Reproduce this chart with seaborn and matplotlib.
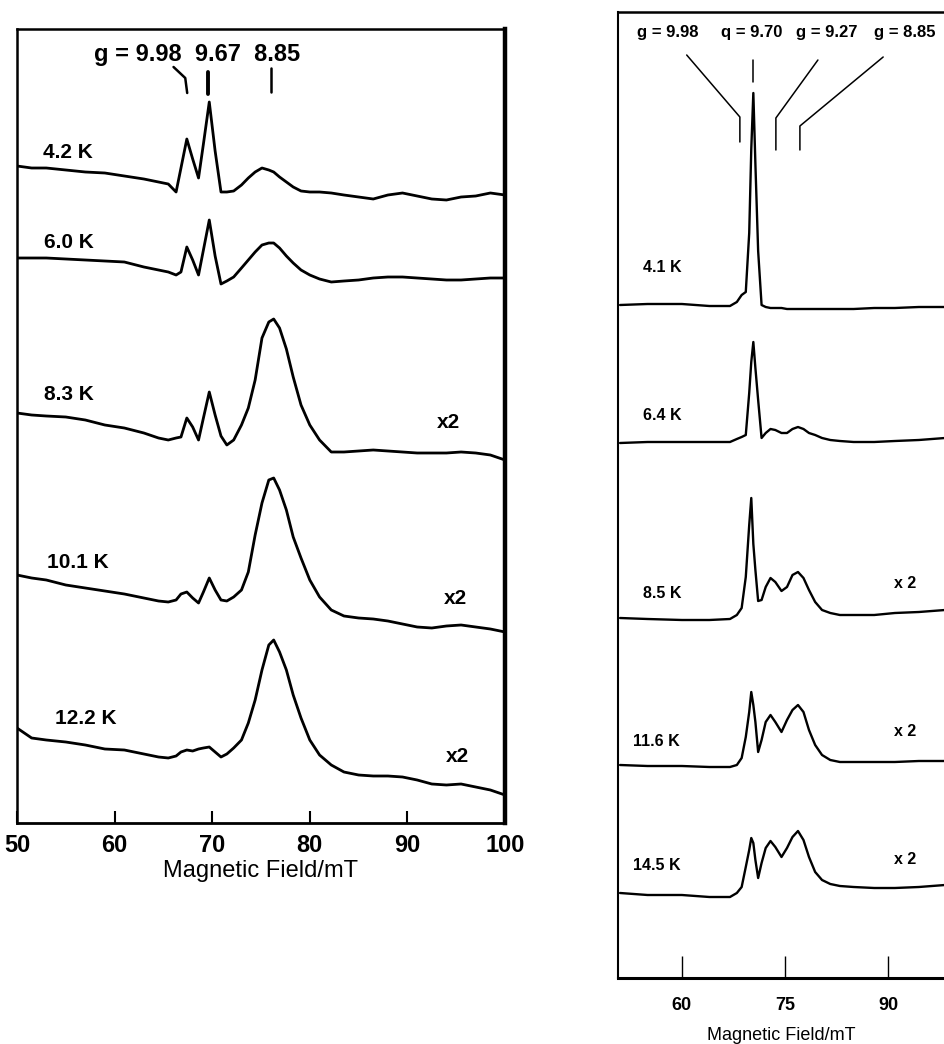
import matplotlib
matplotlib.use("Agg")
import matplotlib.pyplot as plt
import numpy as np
import pandas as pd
import seaborn as sns

# ---------------------------------------------------------------------------
# Panel A: EPR spectra, 4.2 - 12.2 K (intensity incl. vertical stacking offset)
# ---------------------------------------------------------------------------
field_a = [50, 51.5, 53, 55, 57, 59, 61, 63, 64.5, 65.5, 66.3, 66.8, 67.4, 68.0,
           68.6, 69.1, 69.7, 70.3, 70.9, 71.5, 72.2, 73.0, 73.7, 74.4, 75.1, 75.8,
           76.3, 76.9, 77.6, 78.3, 79.1, 80.0, 81.0, 82.2, 83.5, 85, 86.5, 88,
           89.5, 91, 92.5, 94, 95.5, 97, 98.5, 100]

spec_a_4_2 = [657, 655, 655, 653, 651, 650, 647, 644, 641, 639, 631, 655, 684, 664,
              645, 679, 721, 672, 631, 631, 632, 638, 645, 651, 655, 653,
              651, 646, 641, 636, 632, 631, 631, 630, 628, 626, 624, 628,
              630, 627, 624, 623, 626, 627, 630, 628]
spec_a_6_0 = [565, 565, 565, 564, 563, 562, 561, 556, 553, 551, 548, 551, 576, 563,
              548, 573, 603, 567, 539, 542, 546, 555, 563, 571, 578, 580,
              580, 575, 567, 560, 553, 548, 544, 541, 542, 543, 545, 546,
              546, 545, 544, 543, 543, 544, 545, 545]
spec_a_8_3 = [410, 408, 407, 406, 403, 398, 395, 390, 385, 383, 385, 386, 405, 396,
              383, 405, 431, 408, 387, 378, 383, 398, 415, 443, 485, 501,
              504, 495, 474, 446, 418, 398, 383, 371, 371, 372, 373, 372,
              371, 370, 370, 370, 371, 370, 368, 363]
spec_a_10_1 = [248, 245, 243, 238, 235, 232, 229, 225, 222, 221, 223, 229, 231, 225,
               220, 231, 245, 233, 223, 222, 226, 233, 251, 288, 320, 343,
               345, 333, 313, 286, 265, 243, 226, 213, 207, 205, 204, 202,
               199, 196, 195, 197, 198, 196, 194, 191]
spec_a_12_2 = [95, 85, 83, 81, 78, 74, 73, 69, 66, 65, 67, 71, 73, 72,
               74, 75, 76, 71, 66, 69, 75, 83, 100, 123, 153, 178,
               183, 171, 153, 128, 105, 83, 68, 58, 51, 48, 47, 47,
               46, 43, 39, 38, 39, 36, 33, 28]

temps_a = ["4.2 K", "6.0 K", "8.3 K", "10.1 K", "12.2 K"]
gain_a = ["", "", "x2", "x2", "x2"]
g_values_a = [9.98, 9.67, 8.85]
freq_a_ghz = 9.42

# ---------------------------------------------------------------------------
# Panel B: EPR spectra, 4.1 - 14.5 K
# ---------------------------------------------------------------------------
field_b = [51, 55, 60, 64, 67, 68, 68.7, 69.3, 69.8, 70.1, 70.4, 70.7, 71.1, 71.6,
           72.2, 72.9, 73.6, 74.5, 75.3, 76.1, 76.9, 77.7, 78.5, 79.4, 80.4, 81.6,
           83, 85, 88, 91, 94.5, 98.3]

spec_b_4_1 = [673, 674, 674, 672, 672, 676, 683, 686, 745, 829, 885, 814, 727, 673,
              671, 670, 670, 670, 669, 669, 669, 669, 669, 669, 669, 669,
              669, 669, 670, 670, 671, 671]
spec_b_6_4 = [535, 536, 536, 536, 536, 539, 541, 543, 585, 616, 636, 610, 578, 540,
              545, 549, 548, 545, 545, 549, 551, 549, 545, 543, 540, 538,
              537, 536, 536, 537, 538, 540]
spec_b_8_5 = [360, 359, 358, 358, 359, 363, 370, 401, 453, 480, 434, 408, 377, 378,
              391, 400, 396, 387, 391, 403, 406, 400, 388, 376, 368, 365,
              363, 363, 363, 365, 366, 368]
spec_b_11_6 = [213, 212, 212, 211, 211, 213, 220, 241, 266, 286, 273, 256, 226, 238,
               256, 263, 256, 246, 258, 268, 273, 266, 248, 233, 223, 218,
               216, 216, 216, 216, 217, 217]
spec_b_14_5 = [85, 83, 83, 81, 81, 85, 91, 111, 128, 140, 135, 118, 100, 115,
               130, 137, 131, 121, 130, 141, 147, 138, 121, 106, 98, 94,
               92, 91, 90, 90, 91, 93]

temps_b = ["4.1 K", "6.4 K", "8.5 K", "11.6 K", "14.5 K"]
gain_b = ["", "", "x 2", "x 2", "x 2"]
g_values_b = [9.98, 9.70, 9.27, 8.85]
g_labels_b = ["g = 9.98", "q = 9.70", "g = 9.27", "g = 8.85"]
freq_b_ghz = 9.56

XLABEL = "Magnetic Field/mT"


def resonance_field(g, freq_ghz):
    """Resonance field in mT: B = h*nu / (g*muB)."""
    return 71.4477 * freq_ghz / g


def long_frame(field, series, temps):
    parts = []
    for t, s in zip(temps, series):
        parts.append(pd.DataFrame({"field": field, "signal": s, "temp": t}))
    return pd.concat(parts, ignore_index=True)


df_a = long_frame(field_a, [spec_a_4_2, spec_a_6_0, spec_a_8_3, spec_a_10_1, spec_a_12_2], temps_a)
df_b = long_frame(field_b, [spec_b_4_1, spec_b_6_4, spec_b_8_5, spec_b_11_6, spec_b_14_5], temps_b)

sns.set_theme(style="white")
plt.rcParams["font.family"] = ["Liberation Sans", "DejaVu Sans"]
plt.rcParams.update({
    "axes.edgecolor": "black",
    "text.color": "black",
    "axes.labelcolor": "black",
    "xtick.color": "black",
})

W, H = 945, 1044
fig = plt.figure(figsize=(W / 100, H / 100), dpi=100)


def px_axes(x0, x1, ytop, ybot):
    return fig.add_axes([x0 / W, 1 - ybot / H, (x1 - x0) / W, (ybot - ytop) / H])


# ----------------------------- panel A -----------------------------------
ax_a = px_axes(17, 505, 29, 823)
sns.lineplot(data=df_a, x="field", y="signal", hue="temp", units="temp",
             estimator=None, sort=False, palette=["black"] * len(temps_a),
             legend=False, linewidth=2.0, ax=ax_a)
ax_a.set_xlim(50, 100)
ax_a.set_ylim(0, 794)
ax_a.set_yticks([])
ax_a.set_ylabel("")
ax_a.set_xticks([50, 60, 70, 80, 90, 100])
ax_a.set_xticklabels(["50", "60", "70", "80", "90", "100"], fontweight="bold")
ax_a.tick_params(axis="x", direction="in", length=9, width=1.5, pad=8,
                 labelsize=17, colors="black", bottom=True)
ax_a.set_xlabel(XLABEL, fontsize=17, labelpad=2)
for side, lw in [("left", 1.8), ("right", 3.2), ("top", 1.8), ("bottom", 2.0)]:
    ax_a.spines[side].set_linewidth(lw)
    ax_a.spines[side].set_color("black")

label_pos_a = [(52.7, 671), (52.8, 580), (52.8, 428), (53.1, 260), (53.9, 105)]
gain_pos_a = [None, None, (94.2, 401), (94.9, 225), (95.1, 66)]
for t, (bx, hy) in zip(temps_a, label_pos_a):
    ax_a.text(bx, hy, t, fontsize=15, fontweight="bold", ha="left", va="center")
for gtxt, pos in zip(gain_a, gain_pos_a):
    if gtxt:
        ax_a.text(pos[0], pos[1], gtxt, fontsize=15, fontweight="bold", ha="center", va="center")

ax_a.text(68.4, 768, "g = 9.98  9.67  8.85", fontsize=17, fontweight="bold",
          ha="center", va="center")
b1, b2, b3 = [resonance_field(g, freq_a_ghz) for g in g_values_a]
ax_a.plot([b1 - 1.4, b1 - 0.2, b1], [756, 745, 730], color="black", lw=1.8)
ax_a.plot([b2, b2], [751, 729], color="black", lw=2.8)
ax_a.plot([b3, b3], [755, 731], color="black", lw=1.8)

# ----------------------------- panel B -----------------------------------
ax_b = px_axes(618, 945, 12, 978)
sns.lineplot(data=df_b, x="field", y="signal", hue="temp", units="temp",
             estimator=None, sort=False, palette=["black"] * len(temps_b),
             legend=False, linewidth=1.7, ax=ax_b)
ax_b.set_xlim(50.7, 98.3)
ax_b.set_ylim(0, 966)
ax_b.set_yticks([])
ax_b.set_ylabel("")
ax_b.set_xticks([60, 75, 90])
ax_b.set_xticklabels(["60", "75", "90"], fontweight="bold")
ax_b.tick_params(axis="x", direction="in", length=16, width=1.0, pad=14,
                 labelsize=13, colors="black", bottom=True)
ax_b.set_xlabel(XLABEL, fontsize=13, labelpad=9)
ax_b.spines["right"].set_visible(False)
for side, lw in [("left", 1.5), ("top", 1.8), ("bottom", 2.2)]:
    ax_b.spines[side].set_linewidth(lw)
    ax_b.spines[side].set_color("black")

label_pos_b = [(54.3, 710), (54.3, 563), (54.3, 385), (52.9, 236), (52.9, 113)]
gain_pos_b = [None, None, (92.5, 395), (92.5, 246), (92.5, 118)]
for t, (bx, hy) in zip(temps_b, label_pos_b):
    ax_b.text(bx, hy, t, fontsize=11.5, fontweight="bold", ha="left", va="center")
for gtxt, pos in zip(gain_b, gain_pos_b):
    if gtxt:
        ax_b.text(pos[0], pos[1], gtxt, fontsize=11.5, fontweight="bold", ha="center", va="center")

g_text_x = [57.9, 70.1, 81.05, 92.5]
for gl, gx in zip(g_labels_b, g_text_x):
    ax_b.text(gx, 945, gl, fontsize=12, fontweight="bold", ha="center", va="center")

rb = [resonance_field(g, freq_b_ghz) for g in g_values_b]
ax_b.plot([60.7, rb[0], rb[0]], [923, 861, 836], color="black", lw=1.1)
ax_b.plot([rb[1], rb[1]], [918, 896], color="black", lw=1.1)
ax_b.plot([79.8, rb[2], rb[2]], [918, 860, 828], color="black", lw=1.1)
ax_b.plot([89.3, rb[3], rb[3]], [921, 852, 828], color="black", lw=1.1)

fig.savefig("out.png", dpi=100, facecolor="white")
